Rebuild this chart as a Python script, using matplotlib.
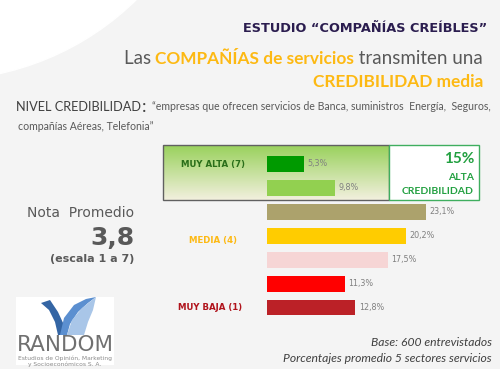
import numpy as np
import matplotlib.pyplot as plt
from matplotlib.patches import Rectangle, Circle, Polygon

# data
niveles = ['7', '6', '5', '4', '3', '2', '1']
valores = [5.3, 9.8, 23.1, 20.2, 17.5, 11.3, 12.8]
etiquetas = ['5,3%', '9,8%', '23,1%', '20,2%', '17,5%', '11,3%', '12,8%']
colores = ['#009a00', '#92d050', '#aca26c', '#ffcc00', '#f6d5d5', '#ff0000', '#bb2127']
nota = '3,8'
alta = '15%'

fig = plt.figure(figsize=(5, 3.69), dpi=100)
fig.patch.set_facecolor('#f4f4f4')

# background axes in pixel coordinates
bg = fig.add_axes([0, 0, 1, 1])
bg.set_xlim(0, 500)
bg.set_ylim(369, 0)
bg.axis('off')
bg.add_patch(Circle((-60, -200), 280, color='white', zorder=0))

renderer = fig.canvas.get_renderer()


def linea(x_right, y, partes):
    # draw a line of mixed-style text, right aligned at x_right
    objs = []
    for s, kw in partes:
        objs.append(bg.text(0, y, s, ha='left', va='center', **kw))
    anchos = [t.get_window_extent(renderer).width for t in objs]
    x = x_right - sum(anchos)
    for t, w in zip(objs, anchos):
        t.set_x(x)
        x += w


reg = dict(fontsize=13.5, color='#595959', family='Lato')
neg = dict(fontsize=12.4, color='#fdb913', family='Lato', fontweight='bold')

# header
bg.text(487, 28, 'ESTUDIO \u201cCOMPAÑÍAS CREÍBLES\u201d', ha='right', va='center',
        fontsize=9.3, fontweight='bold', color='#2b1d4f', family='DejaVu Sans')
linea(483, 59, [('Las\u2009\u2009', reg), ('COMPAÑÍAS de servicios', neg),
                ('\u2009\u2009transmiten una', reg)])
linea(483, 82, [('CREDIBILIDAD media', neg)])

linea(146, 107, [('NIVEL CREDIBILIDAD', dict(fontsize=9.2, color='#404040', family='Lato')),
                 (':', dict(fontsize=13, color='#404040', family='Lato'))])
bg.text(152, 107, '\u201cempresas que ofrecen servicios de Banca, suministros  Energía,  Seguros,',
        ha='left', va='center', fontsize=7.6, color='#595959', family='Lato')
bg.text(18, 126, 'compañías Aéreas, Telefonia\u201d', ha='left', va='center',
        fontsize=7.6, color='#595959', family='Lato')

# green highlight box
grad = np.linspace(0, 1, 100).reshape(-1, 1)
top = np.array([0.60, 0.82, 0.36])
bot = np.array([0.95, 0.94, 0.87])
img = top + (bot - top) * grad[:, :, None]
bg.imshow(img, extent=(163, 389, 200, 145), aspect='auto', zorder=1)
bg.add_patch(Rectangle((163, 145), 226, 55, fill=False, ec='#606060', lw=1, zorder=2))
bg.add_patch(Rectangle((389, 145), 90, 55, fc='white', ec='#3fae5f', lw=1, zorder=2))
bg.text(474, 159, alta, ha='right', va='center', fontsize=11, fontweight='bold',
        color='#22a040', family='Lato', zorder=3)
bg.text(474, 177, 'ALTA', ha='right', va='center', fontsize=7.5, fontweight='bold',
        color='#22a040', family='Lato', zorder=3)
bg.text(474, 191, 'CREDIBILIDAD', ha='right', va='center', fontsize=7.5, fontweight='bold',
        color='#22a040', family='Lato', zorder=3)

# level labels
bg.text(213, 164, 'MUY ALTA (7)', ha='center', va='center', fontsize=6.2,
        fontweight='bold', color='#2a6e1a', zorder=3)
bg.text(213, 240, 'MEDIA (4)', ha='center', va='center', fontsize=6.2,
        fontweight='bold', color='#fdb913', zorder=3)
bg.text(210, 307, 'MUY BAJA (1)', ha='center', va='center', fontsize=6.2,
        fontweight='bold', color='#b0131c', zorder=3)

# nota promedio
bg.text(134, 213, 'Nota  Promedio', ha='right', va='center', fontsize=10, color='#595959')
bg.text(134, 238, nota, ha='right', va='center', fontsize=18, fontweight='bold', color='#595959')
bg.text(134, 259, '(escala 1 a 7)', ha='right', va='center', fontsize=8,
        fontweight='bold', color='#595959')

# footer
bg.text(492, 343, 'Base: 600 entrevistados', ha='right', va='center', fontsize=8.7,
        style='italic', color='#404040', family='Lato')
bg.text(492, 359, 'Porcentajes promedio 5 sectores servicios', ha='right', va='center',
        fontsize=8.7, style='italic', color='#404040', family='Lato')

# logo
bg.add_patch(Rectangle((16, 297), 98, 68, fc='white', ec='none', zorder=1))
bg.add_patch(Polygon([(41, 303), (50, 300), (58, 312), (64, 325), (66, 335), (58, 335),
                      (55, 322), (49, 310)], closed=True, fc='#3465a4', ec='none', zorder=2))
bg.add_patch(Polygon([(60, 335), (64, 318), (74, 305), (86, 299), (96, 297), (88, 303),
                      (78, 312), (70, 324), (67, 335)], closed=True, fc='#5b8fd0', ec='none', zorder=2))
bg.add_patch(Polygon([(67, 335), (72, 320), (82, 308), (96, 297), (93, 310), (88, 322),
                      (84, 335)], closed=True, fc='#a9c6e8', ec='none', zorder=2))
bg.text(65, 345, 'RANDOM', ha='center', va='center', fontsize=15.5, color='#707070',
        family='Liberation Sans Narrow', zorder=3)
bg.text(65, 358, 'Estudios de Opinión, Marketing', ha='center', va='center', fontsize=4.3,
        color='#8a8a8a', zorder=3)
bg.text(65, 364, 'y Socioeconómicos S. A.', ha='center', va='center', fontsize=4.3,
        color='#8a8a8a', zorder=3)

# bar chart
ax = fig.add_axes([267 / 500, 1 - 319.5 / 369, 207 / 500, 167.5 / 369])
ax.patch.set_alpha(0)
y = np.arange(len(valores))
ax.barh(y, valores, height=0.66, color=colores, zorder=3)
for yi, v, lab in zip(y, valores, etiquetas):
    ax.text(v + 0.5, yi, lab, ha='left', va='center', fontsize=5.8, color='#808080')
ax.set_xlim(0, 30)
ax.set_ylim(len(valores) - 0.5, -0.5)
ax.axis('off')

fig.savefig('out.png', dpi=100, facecolor=fig.get_facecolor())
